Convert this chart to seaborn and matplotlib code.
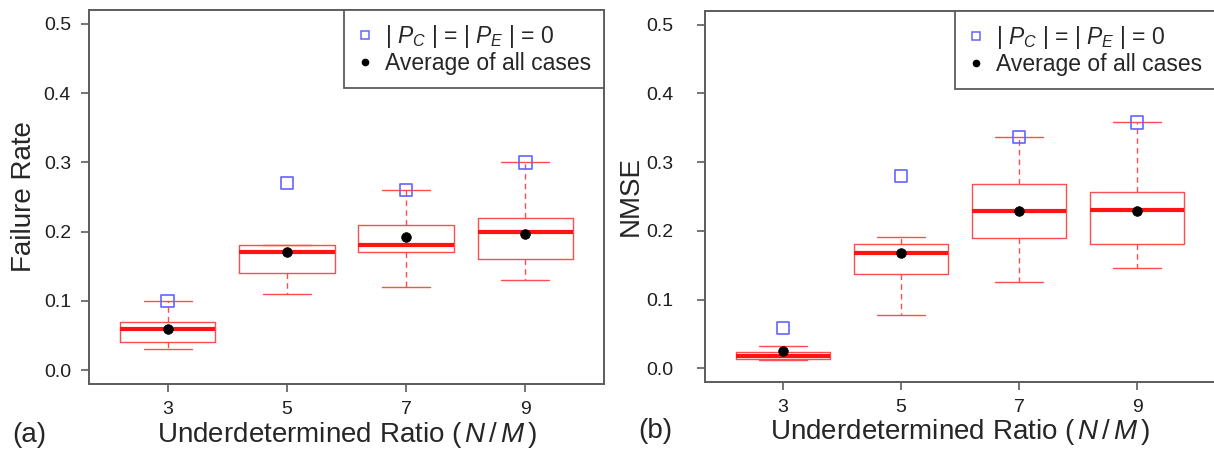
import numpy as np
import pandas as pd
import matplotlib
matplotlib.use("Agg")
import matplotlib.pyplot as plt
import seaborn as sns
from matplotlib.lines import Line2D

# Data
ratios = [3, 5, 7, 9]

# (a) failure rate: whisker-low, Q1, median, Q3, whisker-high
fr_lo = [0.03, 0.11, 0.12, 0.13]
fr_q1 = [0.04, 0.14, 0.17, 0.16]
fr_med = [0.06, 0.17, 0.18, 0.20]
fr_q3 = [0.07, 0.18, 0.21, 0.22]
fr_hi = [0.10, 0.18, 0.26, 0.30]
fr_mean = [0.059, 0.171, 0.192, 0.196]
fr_zero = [0.10, 0.27, 0.26, 0.30]

# (b) NMSE
nm_lo = [0.012, 0.078, 0.125, 0.146]
nm_q1 = [0.013, 0.137, 0.189, 0.181]
nm_med = [0.018, 0.168, 0.229, 0.231]
nm_q3 = [0.024, 0.181, 0.268, 0.257]
nm_hi = [0.033, 0.191, 0.337, 0.358]
nm_mean = [0.025, 0.168, 0.229, 0.229]
nm_zero = [0.059, 0.280, 0.337, 0.358]

sns.set_theme(style="white")
plt.rcParams['font.family'] = ['Liberation Sans', 'DejaVu Sans']
plt.rcParams['mathtext.fontset'] = 'custom'
plt.rcParams['mathtext.rm'] = 'Liberation Sans'
plt.rcParams['mathtext.it'] = 'Liberation Sans:italic'

RED = '#ff4d4d'
BLUE = '#6464ff'
FRAME = '#5c5c5c'
W, H = 1214, 451


def five_num_frame(lo, q1, med, q3, hi):
    rows = []
    for r, a, b, c, d, e in zip(ratios, lo, q1, med, q3, hi):
        for v in (a, b, c, d, e):
            rows.append({'ratio': r, 'value': v})
    return pd.DataFrame(rows)


def draw_panel(ax, df, means, zeros, ylabel, ytick_pad, ylabel_x, xlabel_y):
    sns.boxplot(data=df, x='ratio', y='value', native_scale=True, ax=ax,
                fill=False, color=RED, linecolor=RED, width=0.8, whis=np.inf,
                linewidth=1.0, showfliers=False,
                whiskerprops={'linestyle': (0, (4, 3))},
                medianprops={'linewidth': 3, 'color': '#ff1414'})
    sns.scatterplot(x=ratios, y=zeros, marker='s', s=80, facecolors='none',
                    edgecolor=BLUE, linewidth=1.2, ax=ax, zorder=5)
    sns.scatterplot(x=ratios, y=means, marker='o', s=48, color='black',
                    edgecolor='black', ax=ax, zorder=6)

    ax.set_xlim(3 - 0.66 * 2, 9 + 0.66 * 2)
    ax.set_ylim(-0.02, 0.52)
    ax.set_xticks(ratios)
    ax.set_xticklabels([str(r) for r in ratios])
    ax.set_yticks([0.0, 0.1, 0.2, 0.3, 0.4, 0.5])
    ax.set_yticklabels(['0.0', '0.1', '0.2', '0.3', '0.4', '0.5'])
    ax.tick_params(axis='both', direction='out', length=6, width=1.2,
                   color=FRAME, labelsize=14, labelcolor='#1e1e1e',
                   bottom=True, left=True)
    ax.tick_params(axis='x', pad=6)
    ax.tick_params(axis='y', pad=ytick_pad)
    for sp in ax.spines.values():
        sp.set_color(FRAME)
        sp.set_linewidth(1.4)

    ax.set_xlabel(r'Underdetermined Ratio $(\,N\,/\,M\,)$', fontsize=20)
    ax.xaxis.label.set_va('baseline')
    ax.xaxis.set_label_coords(0.5, xlabel_y)
    ax.set_ylabel(ylabel, fontsize=20)
    ax.yaxis.set_label_coords(ylabel_x, 0.5)

    handles = [
        Line2D([], [], marker='s', linestyle='none', markersize=6,
               markerfacecolor='none', markeredgecolor=BLUE, markeredgewidth=1.1),
        Line2D([], [], marker='o', linestyle='none', markersize=4.5,
               color='black'),
    ]
    labels = [r'$|\ P_C\ |$ = $|\ P_E\ |$ = 0', 'Average of all cases']
    leg = ax.legend(handles, labels, loc='upper right', bbox_to_anchor=(1, 1),
                    borderaxespad=0, fancybox=False, framealpha=1,
                    edgecolor=FRAME, fontsize=16.5, handlelength=0.7,
                    handletextpad=0.55, borderpad=0.55, labelspacing=0.1)
    leg.get_frame().set_linewidth(1.3)


fig = plt.figure(figsize=(W / 100, H / 100), dpi=100)
# axes boxes in pixels: left, top, right, bottom
ax1 = fig.add_axes([89 / W, 1 - 384 / H, 515 / W, 374 / H])
ax2 = fig.add_axes([705 / W, 1 - 382 / H, 510 / W, 371 / H])

draw_panel(ax1, five_num_frame(fr_lo, fr_q1, fr_med, fr_q3, fr_hi),
           fr_mean, fr_zero, 'Failure Rate', 7,
           -(89 - 37) / 515, -(442 - 384) / 374)
draw_panel(ax2, five_num_frame(nm_lo, nm_q1, nm_med, nm_q3, nm_hi),
           nm_mean, nm_zero, 'NMSE', 17,
           -(705 - 644) / 510, -(439 - 382) / 371)

fig.text(12 / W, 1 - 442 / H, '(a)', fontsize=20, va='baseline')
fig.text(638 / W, 1 - 438 / H, '(b)', fontsize=20, va='baseline')

fig.savefig('out.png', dpi=100)
